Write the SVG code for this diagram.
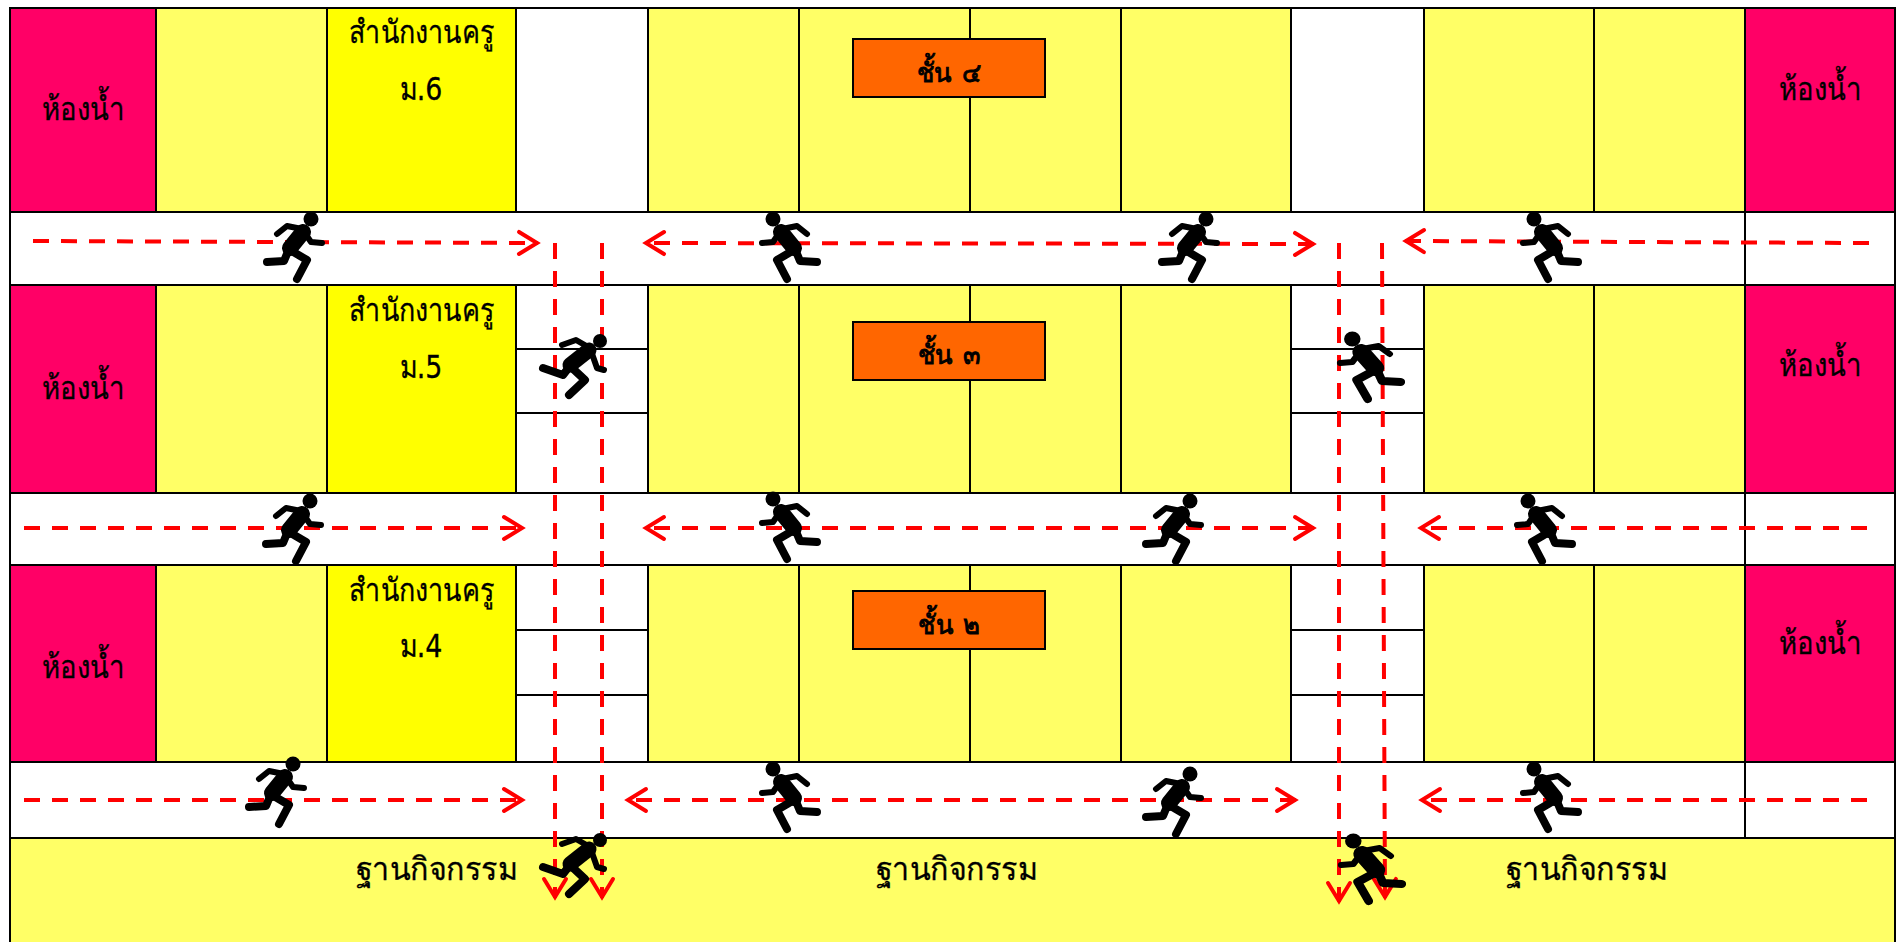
<svg xmlns="http://www.w3.org/2000/svg" width="1896" height="942" viewBox="0 0 1896 942">
<style>
.c{stroke:#000;stroke-width:2}
.b{fill:#fff}.y{fill:#FFFF66}.o{fill:#FFFF00}.p{fill:#FF0066}.g{fill:#FF6600}
text{font-family:"DejaVu Sans","Noto Sans",sans-serif;font-size:32px;fill:#000;text-anchor:middle;stroke:#000;stroke-width:.3px}
.t{font-size:27px;stroke-width:.9px;word-spacing:2px}
.a{fill:none;stroke:#f00;stroke-width:4;stroke-dasharray:16 12}
</style>
<defs>
<marker id="h" markerUnits="userSpaceOnUse" markerWidth="30" markerHeight="30" refX="22" refY="15" orient="auto-start-reverse" viewBox="0 0 30 30"><path d="M3 4 L21 15 L3 26" fill="none" stroke="#f00" stroke-width="4" stroke-linecap="round"/></marker>
<g id="run" fill="none" stroke="#000" stroke-linecap="round" stroke-linejoin="round">
<circle cx="17" cy="-29" r="7.500" fill="#000" stroke="none"/>
<path d="M-17 -14 L-7 -22 L8 -19 L17 -6 L28 -5" stroke-width="6"/>
<path d="M9 -16 L-4 0" stroke-width="16"/>
<path d="M-5 1 L-10 13 L-27 14" stroke-width="8"/>
<path d="M-4 2 L13 12 L3 31" stroke-width="8"/>
</g>
<g id="runDown" fill="none" stroke="#000" stroke-linecap="round" stroke-linejoin="round">
<circle cx="28" cy="-27" r="7" fill="#000" stroke="none"/>
<path d="M-10 -23 L4 -28 L18 -20 L25 0 L32 2" stroke-width="6"/>
<path d="M17 -18 L-2 -3" stroke-width="15"/>
<path d="M-2 -2 L-9 7 L-29 0" stroke-width="8"/>
<path d="M-2 -2 L13 12 L-3 27" stroke-width="8"/>
</g>
</defs>
<g id="floor4">
<rect class="p c" x="10" y="8" width="146" height="204"/>
<rect class="y c" x="156" y="8" width="171" height="204"/>
<rect class="o c" x="327" y="8" width="189" height="204"/>
<rect class="b c" x="516" y="8" width="132" height="204"/>
<rect class="y c" x="648" y="8" width="151" height="204"/>
<rect class="y c" x="799" y="8" width="171" height="204"/>
<rect class="y c" x="970" y="8" width="151" height="204"/>
<rect class="y c" x="1121" y="8" width="170" height="204"/>
<rect class="b c" x="1291" y="8" width="133" height="204"/>
<rect class="y c" x="1424" y="8" width="170" height="204"/>
<rect class="y c" x="1594" y="8" width="151" height="204"/>
<rect class="p c" x="1745" y="8" width="150" height="204"/>
<text transform="translate(83 120) scale(.86 1)">ห้องน้ำ</text><text transform="translate(421.500 43) scale(.84 1)">สำนักงานครู</text><text transform="translate(421 100) scale(.84 1)">ม.6</text><text transform="translate(1820 100) scale(.86 1)">ห้องน้ำ</text>
</g>
<g id="corridor4"><rect class="b c" x="10" y="212" width="1735" height="73"/><rect class="b c" x="1745" y="212" width="150" height="73"/></g>
<g id="floor3">
<rect class="p c" x="10" y="285" width="146" height="208"/>
<rect class="y c" x="156" y="285" width="171" height="208"/>
<rect class="o c" x="327" y="285" width="189" height="208"/>
<rect class="b c" x="516" y="285" width="132" height="64"/><rect class="b c" x="516" y="349" width="132" height="64"/><rect class="b c" x="516" y="413" width="132" height="80"/>
<rect class="y c" x="648" y="285" width="151" height="208"/>
<rect class="y c" x="799" y="285" width="171" height="208"/>
<rect class="y c" x="970" y="285" width="151" height="208"/>
<rect class="y c" x="1121" y="285" width="170" height="208"/>
<rect class="b c" x="1291" y="285" width="133" height="64"/><rect class="b c" x="1291" y="349" width="133" height="64"/><rect class="b c" x="1291" y="413" width="133" height="80"/>
<rect class="y c" x="1424" y="285" width="170" height="208"/>
<rect class="y c" x="1594" y="285" width="151" height="208"/>
<rect class="p c" x="1745" y="285" width="150" height="208"/>
<text transform="translate(83 399) scale(.86 1)">ห้องน้ำ</text><text transform="translate(421.500 321) scale(.84 1)">สำนักงานครู</text><text transform="translate(421 378) scale(.84 1)">ม.5</text><text transform="translate(1820 376) scale(.86 1)">ห้องน้ำ</text>
</g>
<g id="corridor3"><rect class="b c" x="10" y="493" width="1735" height="72"/><rect class="b c" x="1745" y="493" width="150" height="72"/></g>
<g id="floor2">
<rect class="p c" x="10" y="565" width="146" height="197"/>
<rect class="y c" x="156" y="565" width="171" height="197"/>
<rect class="o c" x="327" y="565" width="189" height="197"/>
<rect class="b c" x="516" y="565" width="132" height="65"/><rect class="b c" x="516" y="630" width="132" height="65"/><rect class="b c" x="516" y="695" width="132" height="67"/>
<rect class="y c" x="648" y="565" width="151" height="197"/>
<rect class="y c" x="799" y="565" width="171" height="197"/>
<rect class="y c" x="970" y="565" width="151" height="197"/>
<rect class="y c" x="1121" y="565" width="170" height="197"/>
<rect class="b c" x="1291" y="565" width="133" height="65"/><rect class="b c" x="1291" y="630" width="133" height="65"/><rect class="b c" x="1291" y="695" width="133" height="67"/>
<rect class="y c" x="1424" y="565" width="170" height="197"/>
<rect class="y c" x="1594" y="565" width="151" height="197"/>
<rect class="p c" x="1745" y="565" width="150" height="197"/>
<text transform="translate(83 678) scale(.86 1)">ห้องน้ำ</text><text transform="translate(421.500 601) scale(.84 1)">สำนักงานครู</text><text transform="translate(421 657) scale(.84 1)">ม.4</text><text transform="translate(1820 654) scale(.86 1)">ห้องน้ำ</text>
</g>
<g id="corridor2"><rect class="b c" x="10" y="762" width="1735" height="76"/><rect class="b c" x="1745" y="762" width="150" height="76"/></g>
<g id="activity">
<rect class="y c" x="10" y="838" width="1885" height="120"/>
<text transform="translate(437 880) scale(.95 1)">ฐานกิจกรรม</text><text transform="translate(957 880) scale(.95 1)">ฐานกิจกรรม</text><text transform="translate(1587 880) scale(.95 1)">ฐานกิจกรรม</text>
</g>
<g id="label4"><rect class="g c" x="853" y="39" width="192" height="58"/><text class="t" transform="translate(949 82) scale(.95 1)">ชั้น ๔</text></g>
<g id="label3"><rect class="g c" x="853" y="322" width="192" height="58"/><text class="t" transform="translate(949 364) scale(.95 1)">ชั้น ๓</text></g>
<g id="label2"><rect class="g c" x="853" y="591" width="192" height="58"/><text class="t" transform="translate(949 634) scale(.95 1)">ชั้น ๒</text></g>
<g id="connectors">
<path class="a" d="M33 241 L538 243" marker-end="url(#h)"/>
<path class="a" d="M1314 244 L645 243" marker-end="url(#h)" marker-start="url(#h)"/>
<path class="a" d="M1869 243 L1405 241" marker-end="url(#h)"/>
<path class="a" d="M24 528 L523 528" marker-end="url(#h)"/>
<path class="a" d="M1314 528 L645 528" marker-end="url(#h)" marker-start="url(#h)"/>
<path class="a" d="M1867 528 L1420 528" marker-end="url(#h)"/>
<path class="a" d="M24 800 L523 800" marker-end="url(#h)"/>
<path class="a" d="M1296 800 L627 800" marker-end="url(#h)" marker-start="url(#h)"/>
<path class="a" d="M1867 800 L1421 800" marker-end="url(#h)"/>
<path class="a" d="M555 243 L555 898" marker-end="url(#h)"/>
<path class="a" d="M602 243 L602 898" marker-end="url(#h)"/>
<path class="a" d="M1339 243 L1339 902" marker-end="url(#h)"/>
<path class="a" d="M1382 243 L1385 898" marker-end="url(#h)"/>
</g>
<g id="runners">
<use href="#run" transform="translate(294 248)"/>
<use href="#run" transform="translate(790 248) scale(-1 1)"/>
<use href="#run" transform="translate(1189 248)"/>
<use href="#run" transform="translate(1551 248) scale(-1 1)"/>
<use href="#runDown" transform="translate(572 368)"/>
<use href="#run" transform="translate(1371 368) scale(-1.1 1)"/>
<use href="#run" transform="translate(293 530)"/>
<use href="#run" transform="translate(790 528) scale(-1 1)"/>
<use href="#run" transform="translate(1173 530)"/>
<use href="#run" transform="translate(1545 530) scale(-1 1)"/>
<use href="#run" transform="translate(276 793)"/>
<use href="#run" transform="translate(790 798) scale(-1 1)"/>
<use href="#run" transform="translate(1173 803)"/>
<use href="#run" transform="translate(1551 798) scale(-1 1)"/>
<use href="#runDown" transform="translate(572 867)"/>
<use href="#run" transform="translate(1372 870) scale(-1.1 1)"/>
</g>
</svg>
